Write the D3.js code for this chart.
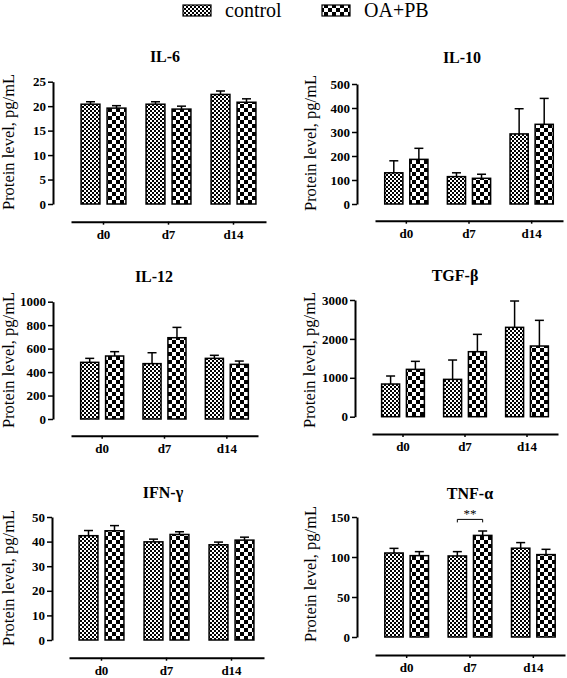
<!DOCTYPE html>
<html><head><meta charset="utf-8">
<script src="https://cdn.jsdelivr.net/npm/d3@7"></script>
<style>body{margin:0;background:#fff}svg{display:block}
svg text{font-family:"Liberation Serif","DejaVu Serif",serif !important}</style>
</head><body>
<svg id="c" width="567" height="678"></svg>
<script>
// ---------- data ----------
const days = ["d0", "d7", "d14"];
const seriesNames = ["control", "OA+PB"];

const il6Control = [20.4, 20.4, 22.4];
const il6ControlErr = [0.5, 0.5, 0.7];
const il6Oa = [19.6, 19.4, 20.8];
const il6OaErr = [0.5, 0.6, 0.7];
const il6Ticks = [0, 5, 10, 15, 20, 25];

const il10Control = [130, 114, 292];
const il10ControlErr = [50, 16, 105];
const il10Oa = [186, 107, 332];
const il10OaErr = [46, 17, 108];
const il10Ticks = [0, 100, 200, 300, 400, 500];

const il12Control = [483, 472, 517];
const il12ControlErr = [34, 93, 26];
const il12Oa = [537, 693, 466];
const il12OaErr = [37, 88, 28];
const il12Ticks = [0, 200, 400, 600, 800, 1000];

const tgfControl = [840, 960, 2297];
const tgfControlErr = [206, 497, 677];
const tgfOa = [1217, 1671, 1817];
const tgfOaErr = [206, 446, 660];
const tgfTicks = [0, 1000, 2000, 3000];

const ifnControl = [42.4, 39.9, 38.7];
const ifnControlErr = [2.1, 1.1, 1.1];
const ifnOa = [44.4, 42.9, 40.6];
const ifnOaErr = [2.1, 1.1, 1.2];
const ifnTicks = [0, 10, 20, 30, 40, 50];

const tnfControl = [105, 101.3, 111];
const tnfControlErr = [5.8, 5.4, 7];
const tnfOa = [101.7, 127, 103];
const tnfOaErr = [5, 5.5, 6.6];
const tnfTicks = [0, 50, 100, 150];
const tnfSig = {day: "d7", level: 147, label: "**"};

const titles = ["IL-6", "IL-10", "IL-12", "TGF-β", "IFN-γ", "TNF-α"];
const yLabel = "Protein level, pg/mL";

// ---------- layout ----------
const layouts = [
  {ax: 53, yTop: 81.7, y0: 204, xAxisY: 221.7, x0: 71, x1: 266, tx: 165, ty: 56, lx: 14, ly: 142},
  {ax: 357, yTop: 84, y0: 204, xAxisY: 220.7, x0: 375, x1: 563, tx: 462, ty: 57, lx: 316, ly: 143},
  {ax: 53, yTop: 301.7, y0: 419, xAxisY: 435.7, x0: 71, x1: 258, tx: 154, ty: 276, lx: 13.5, ly: 360},
  {ax: 355, yTop: 300, y0: 416.7, xAxisY: 434, x0: 372, x1: 558, tx: 455, ty: 275, lx: 315, ly: 360},
  {ax: 52, yTop: 517, y0: 640, xAxisY: 657.7, x0: 69, x1: 264, tx: 163, ty: 492, lx: 13.5, ly: 578},
  {ax: 357, yTop: 517, y0: 637, xAxisY: 655, x0: 375, x1: 565, tx: 470, ty: 493, lx: 316, ly: 574}
];

const panels = [
  {ctrl: il6Control, ctrlErr: il6ControlErr, oa: il6Oa, oaErr: il6OaErr, ticks: il6Ticks},
  {ctrl: il10Control, ctrlErr: il10ControlErr, oa: il10Oa, oaErr: il10OaErr, ticks: il10Ticks},
  {ctrl: il12Control, ctrlErr: il12ControlErr, oa: il12Oa, oaErr: il12OaErr, ticks: il12Ticks},
  {ctrl: tgfControl, ctrlErr: tgfControlErr, oa: tgfOa, oaErr: tgfOaErr, ticks: tgfTicks},
  {ctrl: ifnControl, ctrlErr: ifnControlErr, oa: ifnOa, oaErr: ifnOaErr, ticks: ifnTicks},
  {ctrl: tnfControl, ctrlErr: tnfControlErr, oa: tnfOa, oaErr: tnfOaErr, ticks: tnfTicks, sig: tnfSig}
];

const svg = d3.select("#c");

// ---------- patterns ----------
const defs = svg.append("defs");
const pFine = defs.append("pattern").attr("id", "pFine").attr("patternUnits", "userSpaceOnUse")
  .attr("width", 4).attr("height", 4);
pFine.append("rect").attr("width", 4).attr("height", 4).attr("fill", "#fff");
pFine.append("rect").attr("x", 0).attr("y", 0).attr("width", 2).attr("height", 2).attr("fill", "#000");
pFine.append("rect").attr("x", 2).attr("y", 2).attr("width", 2).attr("height", 2).attr("fill", "#000");

const pCoarse = defs.append("pattern").attr("id", "pCoarse").attr("patternUnits", "userSpaceOnUse")
  .attr("width", 8).attr("height", 8);
pCoarse.append("rect").attr("width", 8).attr("height", 8).attr("fill", "#fff");
pCoarse.append("rect").attr("x", 0).attr("y", 0).attr("width", 4).attr("height", 4).attr("fill", "#000");
pCoarse.append("rect").attr("x", 4).attr("y", 4).attr("width", 4).attr("height", 4).attr("fill", "#000");

const fills = ["url(#pFine)", "url(#pCoarse)"];

// ---------- legend ----------
const legendX = d3.scaleOrdinal().domain(seriesNames).range([183, 322]);
const leg = svg.append("g");
seriesNames.forEach((s, i) => {
  const x = legendX(s);
  leg.append("rect").attr("x", x).attr("y", 5).attr("width", 28).attr("height", 11)
    .attr("fill", fills[i]).attr("stroke", "#000").attr("stroke-width", 1.2);
  leg.append("text").attr("x", x + 42).attr("y", 17)
    .style("font-size", "20px").attr("fill", "#000").text(s);
});

// ---------- panels ----------
panels.forEach((p, i) => {
  const L = layouts[i];
  const g = svg.append("g");
  const yMax = p.ticks[p.ticks.length - 1];
  const y = d3.scaleLinear().domain([0, yMax]).range([L.y0, L.yTop]);
  const x = d3.scaleBand().domain(days).range([L.x0, L.x1]).padding(0);
  const W = x.bandwidth();
  const xs = d3.scaleBand().domain(seriesNames)
    .range([W / 2 - 0.345 * W, W / 2 + 0.345 * W]).paddingInner(0.275).paddingOuter(0);
  const bw = xs.bandwidth();

  // title
  g.append("text").attr("x", L.tx).attr("y", L.ty + 5.5).attr("text-anchor", "middle")
    .style("font-weight", "bold").style("font-size", "16px")
    .attr("fill", "#000").text(titles[i]);

  // y label
  g.append("text").attr("transform", `translate(${L.lx},${L.ly}) rotate(-90)`)
    .attr("text-anchor", "middle").style("font-size", "16.5px")
    .attr("fill", "#000").text(yLabel);

  // y axis
  const ya = g.append("g").attr("transform", `translate(${L.ax},0)`)
    .call(d3.axisLeft(y).tickValues(p.ticks).tickSize(5).tickPadding(2).tickSizeOuter(0).tickFormat(d3.format("d")));
  ya.select(".domain").attr("stroke", "#000").attr("stroke-width", 2);
  ya.selectAll(".tick line").attr("stroke", "#000").attr("stroke-width", 1.5);
  ya.selectAll(".tick text").style("font-weight", "bold")
    .style("font-size", "13px").attr("fill", "#000");

  // x axis
  const xa = g.append("g").attr("transform", `translate(0,${L.xAxisY})`)
    .call(d3.axisBottom(x).tickSize(3).tickPadding(5).tickSizeOuter(0));
  xa.select(".domain").attr("stroke", "#000").attr("stroke-width", 2);
  xa.selectAll(".tick line").attr("stroke", "#000").attr("stroke-width", 1.5);
  xa.selectAll(".tick text").style("font-weight", "bold")
    .style("font-size", "13px").attr("fill", "#000");

  // bars
  const rows = [];
  days.forEach((d, k) => {
    rows.push({day: d, s: seriesNames[0], v: p.ctrl[k], e: p.ctrlErr[k], f: fills[0]});
    rows.push({day: d, s: seriesNames[1], v: p.oa[k], e: p.oaErr[k], f: fills[1]});
  });

  const bars = g.append("g");
  bars.selectAll("line.err").data(rows).enter().append("line")
    .attr("x1", r => x(r.day) + xs(r.s) + bw / 2).attr("x2", r => x(r.day) + xs(r.s) + bw / 2)
    .attr("y1", r => y(r.v)).attr("y2", r => y(r.v + r.e))
    .attr("stroke", "#000").attr("stroke-width", 1.5);
  bars.selectAll("line.cap").data(rows).enter().append("line")
    .attr("x1", r => x(r.day) + xs(r.s) + bw / 2 - 4.5).attr("x2", r => x(r.day) + xs(r.s) + bw / 2 + 4.5)
    .attr("y1", r => y(r.v + r.e)).attr("y2", r => y(r.v + r.e))
    .attr("stroke", "#000").attr("stroke-width", 1.5);
  bars.selectAll("rect").data(rows).enter().append("rect")
    .attr("x", r => x(r.day) + xs(r.s)).attr("width", bw)
    .attr("y", r => y(r.v)).attr("height", r => y(0) - y(r.v))
    .attr("fill", r => r.f).attr("stroke", "#000").attr("stroke-width", 1.5);

  // significance
  if (p.sig) {
    const xa1 = x(p.sig.day) + xs(seriesNames[0]) + bw / 2;
    const xa2 = x(p.sig.day) + xs(seriesNames[1]) + bw / 2;
    const yy = y(p.sig.level);
    g.append("path").attr("d", `M${xa1},${yy + 3}V${yy}H${xa2}V${yy + 3}`)
      .attr("fill", "none").attr("stroke", "#000").attr("stroke-width", 1);
    g.append("text").attr("x", (xa1 + xa2) / 2).attr("y", yy - 1).attr("text-anchor", "middle")
      .style("font-size", "13px").attr("fill", "#000").text(p.sig.label);
  }
});
</script>
</body></html>
